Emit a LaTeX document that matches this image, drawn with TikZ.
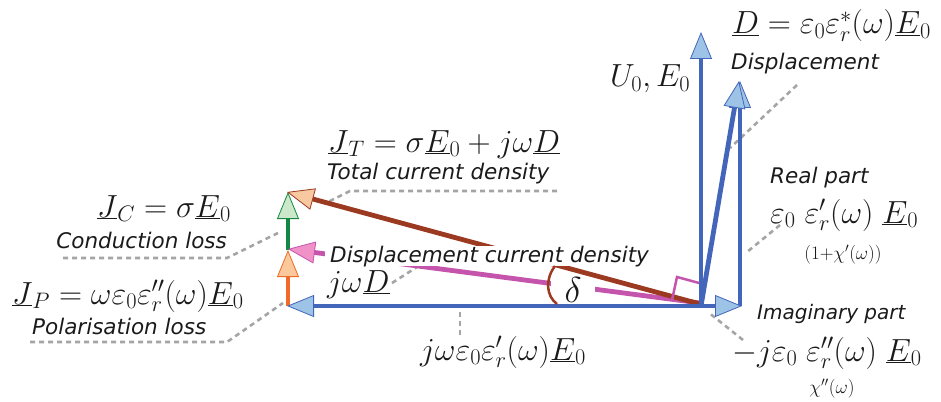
\documentclass[tikz,border=0pt]{standalone}
\usepackage{fix-cm}
\usepackage{fontspec}
\newfontfamily\labfont{DejaVu Sans}
\usetikzlibrary{arrows.meta}
\definecolor{vblue}{RGB}{68,102,186}
\definecolor{lblue}{RGB}{157,195,230}
\definecolor{vbrown}{RGB}{155,58,32}
\definecolor{peach}{RGB}{248,200,160}
\definecolor{vpink}{RGB}{196,84,172}
\definecolor{lpink}{RGB}{240,146,200}
\definecolor{vorange}{RGB}{240,106,40}
\definecolor{lorange}{RGB}{251,200,155}
\definecolor{vgreen}{RGB}{20,136,66}
\definecolor{lgreen}{RGB}{204,232,202}
\definecolor{lgray}{RGB}{165,165,165}
\definecolor{txt}{RGB}{26,26,26}
\tikzset{
  vec/.style 2 args={draw=#1, line width=4.8pt, shorten >=16pt,
    postaction={draw=#1, line width=0.8pt, shorten >=0pt,
      -{Triangle[length=27pt,width=22pt,fill=#2]}}},
  lab/.style={font=\labfont\itshape\fontsize{21.5}{24}\selectfont, text=txt, inner sep=0pt},
  eq/.style={font=\fontsize{32}{36}\selectfont, text=txt, inner sep=0pt},
  smalleq/.style={font=\fontsize{19}{22}\selectfont, text=txt, inner sep=0pt},
  lead/.style={draw=lgray, line width=2.6pt, dash pattern=on 5pt off 4pt},
  rightmark/.style={draw=vpink, line width=2.5pt},
}
\begin{document}
\begin{tikzpicture}[x=1pt,y=-1pt]
\useasboundingbox (0,0) rectangle (941,401);
% key points
\coordinate (O) at (701,306);
\coordinate (U) at (701,32);
\coordinate (Dt) at (739,81);
\coordinate (Ib) at (740,306);
\coordinate (Rt) at (740,81);
\coordinate (I) at (742,306);
\coordinate (A) at (287,306);
\coordinate (Ab) at (288,306);
\coordinate (B) at (288,250);
\coordinate (C) at (288,192);
\coordinate (Pk) at (700,303);
\coordinate (Pt) at (288,249);
\coordinate (Br) at (700,304);
\coordinate (Bt) at (287,192);
% leader end points
\coordinate (l1a) at (797,85);   \coordinate (l1b) at (730,148);
\coordinate (l2a) at (780,225);  \coordinate (l2b) at (747,252);
\coordinate (l3a) at (743,340);  \coordinate (l3b) at (708,312);
\coordinate (l4a) at (63,258);   \coordinate (l4m) at (227,258); \coordinate (l4b) at (278,233);
\coordinate (l5a) at (30,342);   \coordinate (l5m) at (227,342); \coordinate (l5b) at (283,303);
\coordinate (l6a) at (557,191);  \coordinate (l6m) at (350,191); \coordinate (l6b) at (324,204);
\coordinate (l7a) at (392,283);  \coordinate (l7b) at (417,267);
\coordinate (l8a) at (460,312);  \coordinate (l8b) at (460,337);
% leaders
\draw[lead] (l1a) -- (l1b);
\draw[lead] (l2a) -- (l2b);
\draw[lead] (l3a) -- (l3b);
\draw[lead] (l4a) -- (l4m) -- (l4b);
\draw[lead] (l5a) -- (l5m) -- (l5b);
\draw[lead] (l6a) -- (l6m) -- (l6b);
\draw[lead] (l7a) -- (l7b);
\draw[lead] (l8a) -- (l8b);
% loss vectors
\draw[vec={vorange}{lorange}] (Ab) -- (B);
\draw[vec={vgreen}{lgreen}] (B) -- (C);
% displacement current density
\draw[vec={vpink}{lpink}] (Pk) -- (Pt);
\node[fill=white, minimum width=44pt, minimum height=24pt, inner sep=0pt,
      font=\fontsize{36}{38}\selectfont, text=txt] (delta) at (573,290) {$\delta$};
% total current density
\draw[vec={vbrown}{peach}] (Br) -- (Bt);
\node[lab, fill=white, inner xsep=5pt, anchor=base west] (dcd) at (325,262) {Displacement current density};
% field / displacement vectors
\draw[vec={vblue}{lblue}] (O) -- (A);
\draw[vec={vblue}{lblue}] (O) -- (U);
\draw[vec={vblue}{lblue}] (Ib) -- (Rt);
\draw[vec={vblue}{lblue}] (O) -- (Dt);
\draw[vec={vblue}{lblue}] (O) -- (I);
% right angle and loss angle
\draw[rightmark] (672,300) -- (677,277) -- (699,283);
\draw[draw=vbrown, line width=2.5pt] (555,266) .. controls (545,279) and (546,296) .. (557,304);
% labels
\node[eq, anchor=base west] (Deq) at (732,34) {$\underline{D}=\varepsilon_0\varepsilon_r^{*}(\omega)\underline{E}_0$};
\node[lab, anchor=base west] (Dlab) at (731,70) {Displacement};
\node[eq, anchor=base west] (Ulab) at (610,87) {$U_0, E_0$};
\node[lab, anchor=base west] (Rlab) at (770,183) {Real part};
\node[eq, anchor=base west] (Req) at (770,223) {$\varepsilon_0\;\varepsilon'_r(\omega)\;\underline{E}_0$};
\node[smalleq] (Rsm) at (843,255) {$(1{+}\chi'(\omega))$};
\node[lab, anchor=base west, font=\labfont\itshape\fontsize{20}{24}\selectfont] (Ilab) at (757,319) {Imaginary part};
\node[eq, anchor=base west] (Ieq) at (732,361) {$-j\varepsilon_0\;\varepsilon''_r(\omega)\;\underline{E}_0$};
\node[smalleq] (Ism) at (832,389) {$\chi''(\omega)$};
\node[eq, anchor=base east] (JCeq) at (231,217) {$\underline{J}_C=\sigma\underline{E}_0$};
\node[lab, anchor=base east] (JClab) at (227,248) {Conduction loss};
\node[eq, anchor=base west] (JPeq) at (12,304) {$\underline{J}_P=\omega\varepsilon_0\varepsilon''_r(\omega)\underline{E}_0$};
\node[lab, anchor=base west] (JPlab) at (32,334) {Polarisation loss};
\node[eq, anchor=base west] (JTeq) at (328,152) {$\underline{J}_T=\sigma\underline{E}_0+j\omega\underline{D}$};
\node[lab, anchor=base west] (JTlab) at (327,179) {Total current density};
\node[eq, anchor=base west] (jwD) at (327,292) {$j\omega\underline{D}$};
\node[eq, anchor=base west] (jwE) at (420,360) {$j\omega\varepsilon_0\varepsilon'_r(\omega)\underline{E}_0$};
\end{tikzpicture}
\end{document}
